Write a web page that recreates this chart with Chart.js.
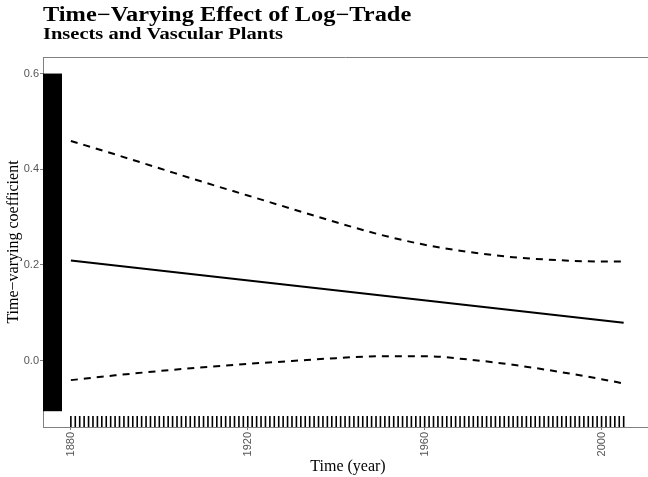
<!DOCTYPE html>
<html>
<head>
<meta charset="utf-8">
<script src="https://cdn.jsdelivr.net/npm/chart.js@4.4.1/dist/chart.umd.min.js"></script>
<style>
  html, body { margin: 0; padding: 0; background: #fff; }
</style>
</head>
<body>
<canvas id="myChart" width="648" height="477"></canvas>
<script>
// fitted coefficient and its confidence band
const bandYears = [1880, 1890, 1900, 1910, 1920, 1930, 1940, 1950, 1960, 1970, 1980, 1990, 2000, 2005];
const upperBand = [0.459, 0.431, 0.402, 0.373, 0.345, 0.317, 0.289, 0.263, 0.242, 0.227, 0.216, 0.210, 0.207, 0.207];
const lowerBand = [-0.041, -0.031, -0.022, -0.014, -0.007, -0.001, 0.005, 0.009, 0.009, 0.002, -0.009, -0.023, -0.039, -0.048];
const trendYears = [1880, 2005];
const trendValues = [0.209, 0.079];

const xTickValues = [1880, 1920, 1960, 2000];
const yTickValues = [0.0, 0.2, 0.4, 0.6];

// observation years shown as a rug along the bottom
const rugYears = [
  1880, 1881, 1882, 1883, 1884, 1885, 1886, 1887, 1888, 1889,
  1890, 1891, 1892, 1893, 1894, 1895, 1896, 1897, 1898, 1899,
  1900, 1901, 1902, 1903, 1904, 1905, 1906, 1907, 1908, 1909,
  1910, 1911, 1912, 1913, 1914, 1915, 1916, 1917, 1918, 1919,
  1920, 1921, 1922, 1923, 1924, 1925, 1926, 1927, 1928, 1929,
  1930, 1931, 1932, 1933, 1934, 1935, 1936, 1937, 1938, 1939,
  1940, 1941, 1942, 1943, 1944, 1945, 1946, 1947, 1948, 1949,
  1950, 1951, 1952, 1953, 1954, 1955, 1956, 1957, 1958, 1959,
  1960, 1961, 1962, 1963, 1964, 1965, 1966, 1967, 1968, 1969,
  1970, 1971, 1972, 1973, 1974, 1975, 1976, 1977, 1978, 1979,
  1980, 1981, 1982, 1983, 1984, 1985, 1986, 1987, 1988, 1989,
  1990, 1991, 1992, 1993, 1994, 1995, 1996, 1997, 1998, 1999,
  2000, 2001, 2002, 2003, 2004, 2005
];
// span covered by the dense rug on the y axis
const yRugRange = [-0.106, 0.6];

const axisGrey = "#808080";
const labelGrey = "#555555";

function toPoints(xs, ys) {
  return xs.map((x, i) => ({ x: x, y: ys[i] }));
}

// draws text stretched horizontally by sx
function wideText(ctx, text, x, y, sx) {
  ctx.save();
  ctx.translate(x, y);
  ctx.scale(sx, 1);
  ctx.fillText(text, 0, 0);
  ctx.restore();
}

const extras = {
  id: "extras",
  beforeDatasetsDraw(chart) {
    const { ctx, chartArea, scales } = chart;
    const xs = scales.x;
    const ys = scales.y;
    ctx.save();
    // top frame line
    ctx.strokeStyle = axisGrey;
    ctx.lineWidth = 1;
    ctx.beginPath();
    ctx.moveTo(chartArea.left, chartArea.top + 0.5);
    ctx.lineTo(chartArea.right, chartArea.top + 0.5);
    ctx.stroke();

    // y rug
    const top = ys.getPixelForValue(yRugRange[1]);
    const bottom = ys.getPixelForValue(yRugRange[0]);
    ctx.fillStyle = "#000";
    ctx.fillRect(chartArea.left, top, 19, bottom - top);

    // x rug
    ctx.strokeStyle = "#000";
    ctx.lineWidth = 1.6;
    ctx.beginPath();
    rugYears.forEach(yr => {
      const px = xs.getPixelForValue(yr);
      ctx.moveTo(px, chartArea.bottom);
      ctx.lineTo(px, chartArea.bottom - 11);
    });
    ctx.stroke();
    ctx.restore();
  },
  afterDraw(chart) {
    const { ctx, chartArea } = chart;
    ctx.save();
    ctx.fillStyle = "#000";
    ctx.textAlign = "left";
    ctx.textBaseline = "alphabetic";
    ctx.font = "bold 20px 'Liberation Serif'";
    wideText(ctx, "Time\u2212Varying Effect of Log\u2212Trade", chartArea.left, 21, 1.22);
    ctx.font = "bold 16px 'Liberation Serif'";
    wideText(ctx, "Insects and Vascular Plants", chartArea.left, 39, 1.28);

    ctx.font = "16px 'Liberation Serif'";
    ctx.textAlign = "center";
    ctx.fillText("Time (year)", 348, 471);

    ctx.translate(14, (chartArea.top + chartArea.bottom) / 2);
    ctx.rotate(-Math.PI / 2);
    ctx.textBaseline = "middle";
    ctx.fillText("Time\u2212varying coefficient", 0, 0);
    ctx.restore();
  }
};

const ctx = document.getElementById("myChart");
const myChart = new Chart(ctx, {
  type: "line",
  data: {
    datasets: [
      {
        data: toPoints(trendYears, trendValues),
        borderColor: "#000",
        borderWidth: 2,
        pointRadius: 0
      },
      {
        data: toPoints(bandYears, upperBand),
        borderColor: "#000",
        borderWidth: 2,
        borderDash: [7, 6],
        pointRadius: 0,
        cubicInterpolationMode: "monotone"
      },
      {
        data: toPoints(bandYears, lowerBand),
        borderColor: "#000",
        borderWidth: 2,
        borderDash: [7, 6],
        pointRadius: 0,
        cubicInterpolationMode: "monotone"
      }
    ]
  },
  options: {
    responsive: false,
    animation: false,
    layout: { padding: { top: 57, left: 0, right: 0, bottom: 0 } },
    plugins: {
      legend: { display: false },
      title: { display: false },
      tooltip: { enabled: false }
    },
    scales: {
      x: {
        type: "linear",
        min: 1873.7,
        max: 2010.5,
        afterBuildTicks: s => { s.ticks = xTickValues.map(v => ({ value: v })); },
        afterFit: s => { s.height = 50; },
        border: { display: true, color: axisGrey, width: 1 },
        grid: { display: true, drawOnChartArea: false, drawTicks: true, tickLength: 3, color: axisGrey },
        ticks: {
          minRotation: 90,
          maxRotation: 90,
          padding: 2,
          color: labelGrey,
          font: { family: "'Liberation Sans'", size: 11 },
          callback: v => String(v)
        }
      },
      y: {
        type: "linear",
        min: -0.139,
        max: 0.6346,
        afterBuildTicks: s => { s.ticks = yTickValues.map(v => ({ value: v })); },
        afterFit: s => { s.width = 43; },
        border: { display: true, color: axisGrey, width: 1 },
        grid: { display: true, drawOnChartArea: false, drawTicks: true, tickLength: 3, color: axisGrey },
        ticks: {
          padding: 1,
          color: labelGrey,
          font: { family: "'Liberation Sans'", size: 11 },
          callback: v => v.toFixed(1)
        }
      }
    }
  },
  plugins: [extras]
});
</script>
</body>
</html>
